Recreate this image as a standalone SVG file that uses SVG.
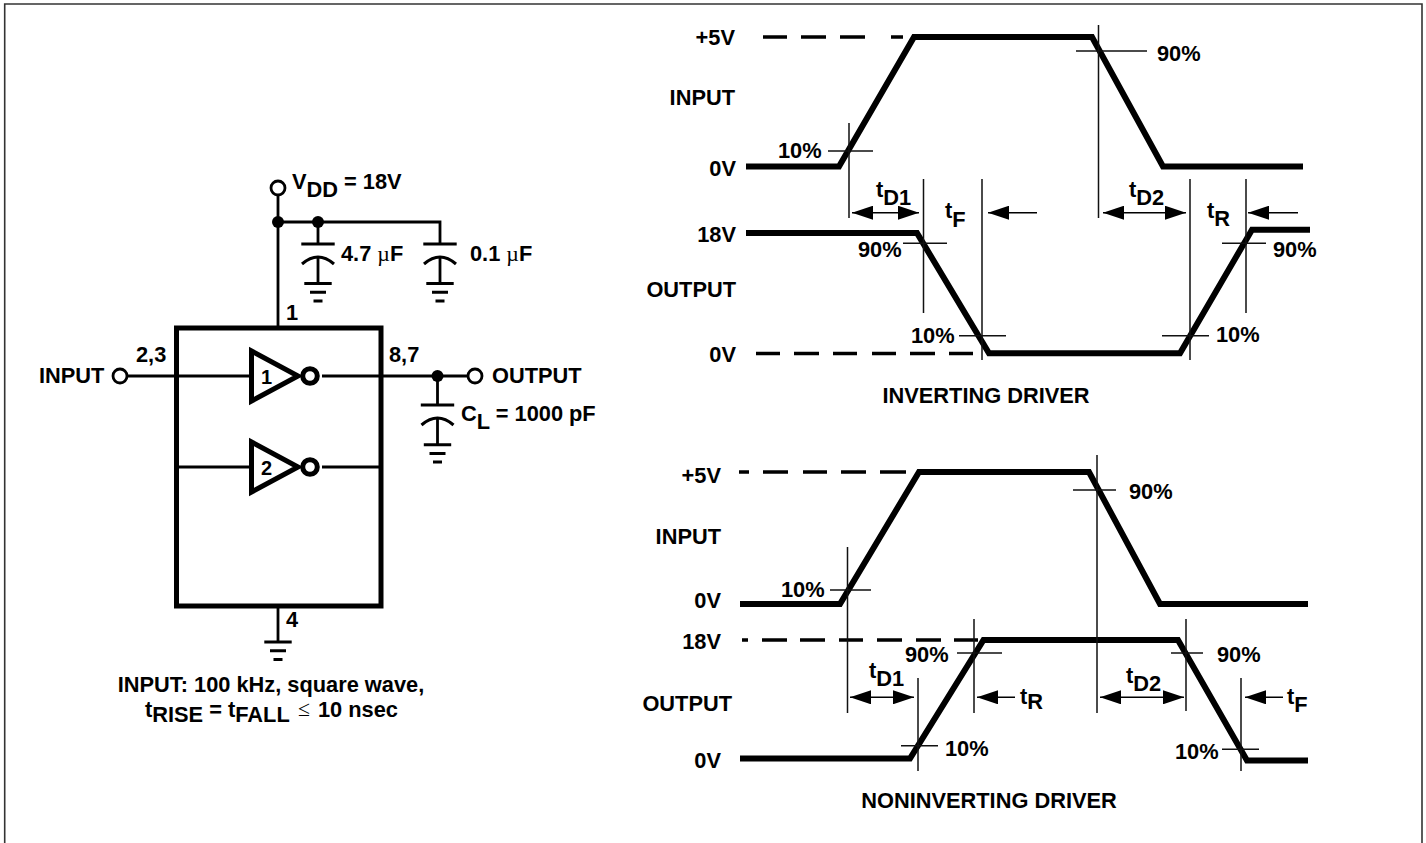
<svg xmlns="http://www.w3.org/2000/svg" width="1426" height="843" viewBox="0 0 1426 843">
<style>
text{font-family:"Liberation Sans",Arial,sans-serif;font-weight:700;font-size:21.8px;fill:#000}
.e{text-anchor:end}.m{text-anchor:middle}
.sy{font-family:"Liberation Serif",serif;font-weight:400}
.n{font-size:20px}
.wave{fill:none;stroke:#000;stroke-width:6;stroke-linejoin:miter}
.dash{fill:none;stroke:#000;stroke-width:3.4}
.thin{fill:none;stroke:#111;stroke-width:1.5}
.w{fill:none;stroke:#000;stroke-width:2.8}
.plate{fill:none;stroke:#000;stroke-width:3}
.bub{fill:#fff;stroke:#000;stroke-width:5}
.term{fill:#fff;stroke:#000;stroke-width:2.8}
.arrow{fill:none;stroke:#000;stroke-width:1.6;marker-end:url(#ah)}
.arrow2{fill:none;stroke:#000;stroke-width:1.6;marker-start:url(#ahs);marker-end:url(#ah)}
</style>
<defs>
<marker id="ah" markerUnits="userSpaceOnUse" markerWidth="21" markerHeight="14" refX="21" refY="7" orient="auto"><path d="M0 0L21 7L0 14Z" fill="#000"/></marker>
<marker id="ahs" markerUnits="userSpaceOnUse" markerWidth="21" markerHeight="14" refX="0" refY="7" orient="auto"><path d="M21 0L0 7L21 14Z" fill="#000"/></marker>
<g id="gnd"><path class="plate" d="M-13.7 0H13.7M-8 8.7H8M-4.5 17.4H4.5"/></g>
<g id="cap"><path class="plate" d="M-16.7 0H16.7M-16 20Q0 6 16 20"/><path class="w" d="M0 13V40"/></g>
</defs>
<path id="frame" d="M4.7 843V4H1422V843" fill="none" stroke="#333" stroke-width="1.6"/>
<g id="connectors">
<path class="w" d="M278 194V327M278 222H440V244M318 222V244"/>
<path class="w" d="M127 376H250M322 376H469M437.5 376V405"/>
<path class="w" d="M177 467H250M322 467H381"/>
<path class="w" d="M278 606V642"/>
</g>
<g id="terminal-vdd"><circle class="term" cx="278" cy="188" r="7"/><text x="292" y="189">V<tspan dy="8">DD</tspan><tspan dy="-8"> = 18V</tspan></text></g>
<g id="junctions"><circle cx="278" cy="222" r="6"/><circle cx="318" cy="222" r="6"/><circle cx="437.5" cy="376" r="6"/></g>
<g id="c1"><use href="#cap" x="318" y="244"/><use href="#gnd" x="318" y="283.5"/><text x="341" y="261">4.7 <tspan class="sy">µ</tspan>F</text></g>
<g id="c2"><use href="#cap" x="440" y="244"/><use href="#gnd" x="440" y="283.5"/><text x="470" y="261">0.1 <tspan class="sy">µ</tspan>F</text></g>
<g id="cl"><use href="#cap" x="437.5" y="405"/><use href="#gnd" x="437.5" y="444.7"/><text x="461" y="421">C<tspan dy="8">L</tspan><tspan dy="-8"> = 1000 pF</tspan></text></g>
<g id="ic"><rect x="176.5" y="328" width="204.5" height="278" fill="none" stroke="#000" stroke-width="5"/>
<text x="286" y="320">1</text><text x="136" y="362">2,3</text><text x="389" y="362">8,7</text><text x="286" y="627">4</text></g>
<g id="inv1"><path d="M251.5 351V401L298 376Z" fill="#fff" stroke="#000" stroke-width="5"/><circle class="bub" cx="310" cy="376" r="7.3"/><text class="n" x="261" y="384">1</text></g>
<g id="inv2"><path d="M251.5 442V492L298 467Z" fill="#fff" stroke="#000" stroke-width="5"/><circle class="bub" cx="310" cy="467" r="7.3"/><text class="n" x="261" y="475">2</text></g>
<g id="terminal-in"><circle class="term" cx="120" cy="376" r="7"/><text x="39" y="383">INPUT</text></g>
<g id="terminal-out"><circle class="term" cx="475" cy="376" r="7"/><text x="492" y="383">OUTPUT</text></g>
<g id="gnd4"><use href="#gnd" x="278" y="642"/></g>
<g id="note"><text class="m" x="271" y="692">INPUT: 100 kHz, square wave,</text>
<text x="145" y="717">t<tspan dy="5">RISE</tspan><tspan dy="-5"> = t</tspan><tspan dy="5">FALL</tspan></text><text class="sy" x="298" y="716">≤</text><text x="318" y="717">10 nsec</text></g>
<g id="inverting-driver">
<path class="wave" d="M746 166.5H839L914 37H1092L1163 166.5H1303"/>
<path class="wave" d="M746 233H917L989 353.3H1180L1252 229.7H1310"/>
<path class="dash" d="M763 37H787M801 37H826M840 37H865M891 37H903M756 353.5H780M794 353.5H819M833 353.5H857M872 353.5H896M910 353.5H935M949 353.5H973"/>
<path class="thin" d="M849 123V218M828 151H873M1098.5 25V218M1076 51H1147M923.5 179V313M982 179V360M1190 179V360M1246 179V313M903 243.3H947M1222 243.3H1266M959 335.7H1006M1162 335.7H1209"/>
<path class="arrow2" d="M852 212.7H919"/><path class="arrow" d="M1037 212.7H988"/><path class="arrow2" d="M1103 212.7H1186"/><path class="arrow" d="M1298 212.7H1248"/>
<text class="e" x="735" y="45">+5V</text><text class="e" x="735" y="105">INPUT</text><text class="e" x="736" y="176">0V</text><text class="e" x="736" y="242">18V</text><text class="e" x="736" y="297">OUTPUT</text><text class="e" x="736" y="362">0V</text>
<text x="1157" y="61">90%</text><text x="778" y="158">10%</text><text x="858" y="257">90%</text><text x="1273" y="257">90%</text><text x="911" y="343">10%</text><text x="1216" y="342">10%</text>
<text x="876" y="197">t<tspan dy="8">D1</tspan></text><text x="945" y="218">t<tspan dy="9">F</tspan></text><text x="1129" y="197">t<tspan dy="8">D2</tspan></text><text x="1207" y="218">t<tspan dy="8">R</tspan></text>
<text class="m" x="986" y="403">INVERTING DRIVER</text>
</g>
<g id="noninverting-driver">
<path class="wave" d="M740 604H840L919 472H1089L1160 604H1308"/>
<path class="wave" d="M740 758.5H910L983.5 640H1178L1247 760.5H1308"/>
<path class="dash" d="M739 472H749M763 472H788M803 472H827M841 472H866M880 472H906M742 640H748M762 640H787M800 640H825M839 640H863M877 640H902M916 640H941M954 640H978"/>
<path class="thin" d="M847.5 547V713M830 590H871M1097 455V713M1073 490H1116M974 619V713M918 678V771M1186 619V711M1241 678V771M957 653H1002M1171 653H1203M901 745.7H938M1222 749.3H1259"/>
<path class="arrow2" d="M850 697.3H914"/><path class="arrow" d="M1015 697.3H977"/><path class="arrow2" d="M1100 697.3H1184"/><path class="arrow" d="M1283 697.3H1245"/>
<text class="e" x="721" y="483">+5V</text><text class="e" x="721" y="544">INPUT</text><text class="e" x="721" y="608">0V</text><text class="e" x="721" y="649">18V</text><text class="e" x="732" y="711">OUTPUT</text><text class="e" x="721" y="768">0V</text>
<text x="1129" y="499">90%</text><text x="781" y="597">10%</text><text x="905" y="662">90%</text><text x="1217" y="662">90%</text><text x="945" y="756">10%</text><text x="1175" y="759">10%</text>
<text x="869" y="678">t<tspan dy="8">D1</tspan></text><text x="1020" y="704">t<tspan dy="5">R</tspan></text><text x="1126" y="683">t<tspan dy="8">D2</tspan></text><text x="1287" y="704">t<tspan dy="8">F</tspan></text>
<text class="m" x="989" y="808">NONINVERTING DRIVER</text>
</g>
</svg>
